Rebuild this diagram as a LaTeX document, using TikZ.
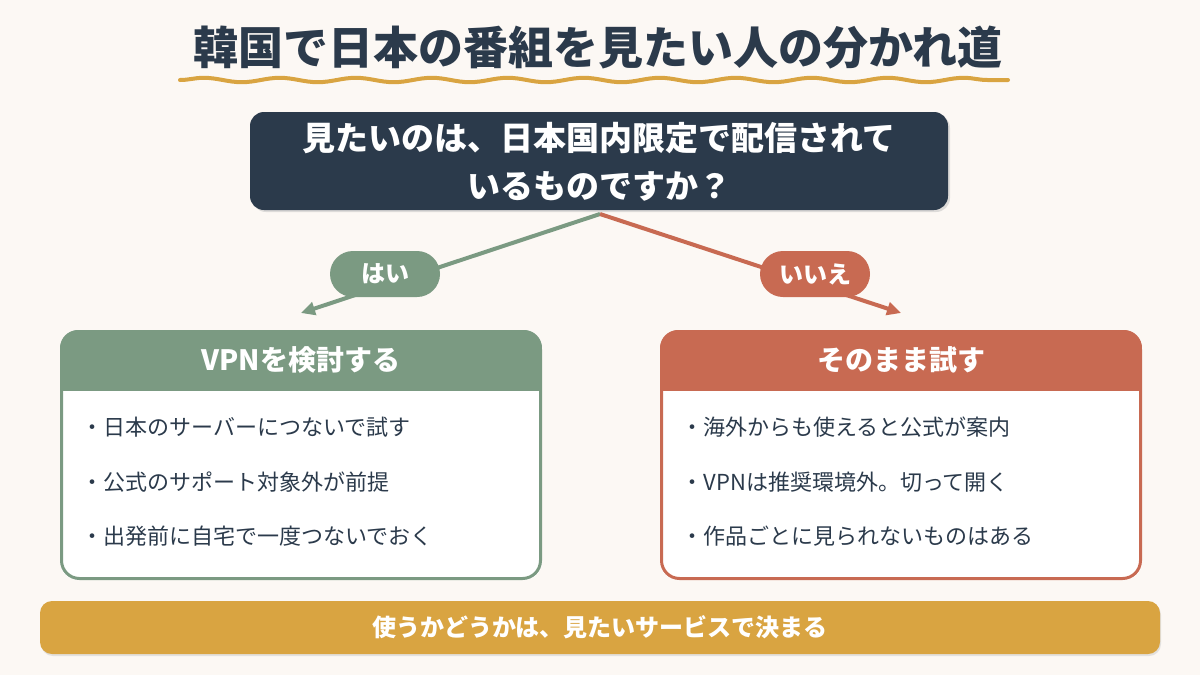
\documentclass[tikz,border=0pt]{standalone}
\usepackage{fontspec}
\setmainfont{Noto Sans CJK JP}
\newfontfamily\cjk{Noto Sans CJK JP}
\usetikzlibrary{arrows.meta,positioning,decorations.pathmorphing}
\definecolor{bgc}{HTML}{FCF8F4}
\definecolor{navy}{HTML}{2B3A4B}
\definecolor{sage}{HTML}{7B9A82}
\definecolor{rust}{HTML}{C86A52}
\definecolor{gold}{HTML}{D9A441}
\tikzset{
  pill/.style={fill=#1, text=white, rounded corners=23pt, minimum width=110pt, minimum height=46pt, inner sep=0pt, font=\cjk\bfseries\fontsize{24}{28}\selectfont},
  branch/.style={draw=#1, line width=4pt, -{Triangle[length=14pt,width=13pt]}},
  headtxt/.style={text=white, font=\cjk\bfseries\fontsize{28}{32}\selectfont},
  bullet/.style={text=navy, anchor=west, font=\cjk\fontsize{22}{26}\selectfont},
}
\begin{document}
\begin{tikzpicture}[x=1pt,y=-1pt]
\useasboundingbox (0,0) rectangle (1200,675);
\fill[bgc] (0,0) rectangle (1200,675);
% title
\node[text=navy, font=\cjk\bfseries\fontsize{45}{50}\selectfont] (title) at (598,48) {韓国で日本の番組を見たい人の分かれ道};
\draw[gold, line width=4pt, line cap=round, decorate, decoration={snake, amplitude=2.2pt, segment length=76pt}] (180,80) -- (1008,80);
% question
\fill[black!25, opacity=0.5, rounded corners=14pt] (252,114) rectangle (950,212);
\node[fill=navy, rounded corners=14pt, minimum width=698pt, minimum height=98pt, inner sep=0pt] (q) at (599,161) {};
\node[text=white, font=\cjk\bfseries\fontsize{33}{48}\selectfont, align=center] (qt) at (599,162) {見たいのは、日本国内限定で配信されて\\いるものですか？};
% branches
\coordinate (apex) at (600,214);
\coordinate (lt) at (301,313);
\coordinate (rt) at (901,313);
\draw[branch=sage] (apex) -- (lt);
\draw[branch=rust] (apex) -- (rt);
\node[pill=sage] (yes) at (385,274) {はい};
\node[pill=rust] (no) at (815,274) {いいえ};
% left box
\begin{scope}
\clip[rounded corners=18pt] (60,330) rectangle (542,580);
\fill[white] (60,330) rectangle (542,580);
\fill[sage] (60,330) rectangle (542,391);
\end{scope}
\draw[sage, line width=3pt, rounded corners=18pt] (61.5,331.5) rectangle (540.5,578.5);
\node[headtxt] (lh) at (301,360) {VPNを検討する};
\node[bullet] (l1) at (78,427) {・日本のサーバーにつないで試す};
\node[bullet] (l2) at (78,482) {・公式のサポート対象外が前提};
\node[bullet] (l3) at (78,536) {・出発前に自宅で一度つないでおく};
% right box
\begin{scope}
\clip[rounded corners=18pt] (660,330) rectangle (1142,580);
\fill[white] (660,330) rectangle (1142,580);
\fill[rust] (660,330) rectangle (1142,391);
\end{scope}
\draw[rust, line width=3pt, rounded corners=18pt] (661.5,331.5) rectangle (1140.5,578.5);
\node[headtxt] (rh) at (901,360) {そのまま試す};
\node[bullet] (r1) at (678,427) {・海外からも使えると公式が案内};
\node[bullet] (r2) at (678,482) {・VPNは推奨環境外。切って開く};
\node[bullet] (r3) at (678,536) {・作品ごとに見られないものはある};
% bottom bar
\fill[black!20, opacity=0.5, rounded corners=12pt] (41,603) rectangle (1161,656);
\node[fill=gold, rounded corners=12pt, minimum width=1120pt, minimum height=53pt, inner sep=0pt, text=white, font=\cjk\bfseries\fontsize{24}{28}\selectfont] (bar) at (600,627.5) {使うかどうかは、見たいサービスで決まる};
\end{tikzpicture}
\end{document}
